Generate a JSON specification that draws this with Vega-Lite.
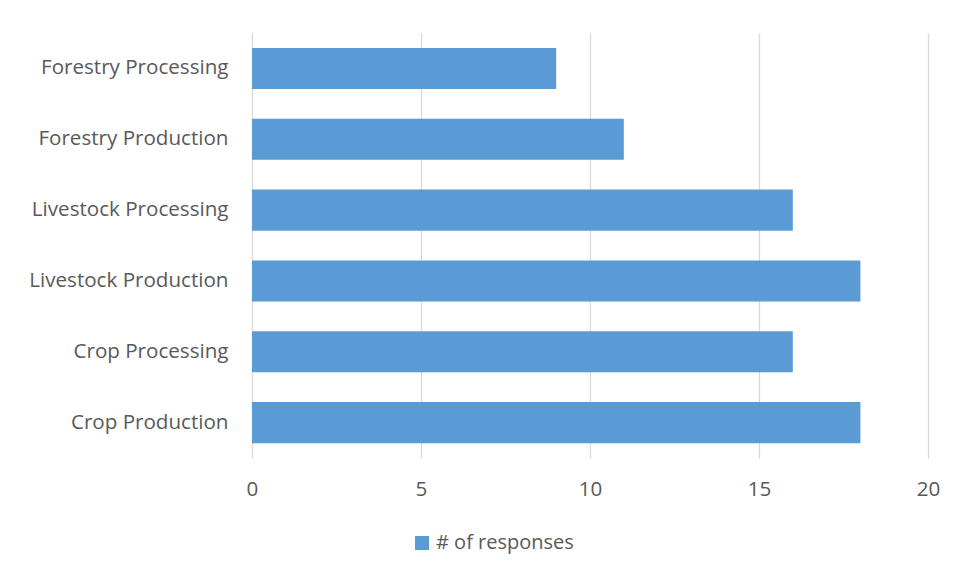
{
  "$schema": "https://vega.github.io/schema/vega-lite/v6.json",
  "width": 676,
  "height": 425,
  "autosize": "none",
  "padding": {"left": 252, "top": 33, "right": 28, "bottom": 120},
  "background": "white",
  "data": {
    "values": [
      {"sector": "Forestry Processing", "responses": 9, "series": "# of responses"},
      {"sector": "Forestry Production", "responses": 11, "series": "# of responses"},
      {"sector": "Livestock Processing", "responses": 16, "series": "# of responses"},
      {"sector": "Livestock Production", "responses": 18, "series": "# of responses"},
      {"sector": "Crop Processing", "responses": 16, "series": "# of responses"},
      {"sector": "Crop Production", "responses": 18, "series": "# of responses"}
    ]
  },
  "mark": {"type": "bar"},
  "encoding": {
    "y": {
      "field": "sector",
      "type": "nominal",
      "sort": null,
      "scale": {"paddingInner": 0.42, "paddingOuter": 0.21},
      "axis": {
        "title": null,
        "domain": false,
        "ticks": false,
        "grid": false,
        "labelPadding": 24,
        "labelLimit": 300,
        "labelFont": "Open Sans",
        "labelFontSize": 20.6,
        "labelColor": "#595959"
      }
    },
    "x": {
      "field": "responses",
      "type": "quantitative",
      "scale": {"domain": [0, 20], "nice": false},
      "axis": {
        "title": null,
        "values": [0, 5, 10, 15, 20],
        "domain": false,
        "ticks": false,
        "grid": true,
        "gridColor": "#d9d9d9",
        "gridWidth": 1.3,
        "labelFlush": false,
        "labelPadding": 21,
        "labelFont": "Open Sans",
        "labelFontSize": 20.6,
        "labelColor": "#595959"
      }
    },
    "color": {
      "field": "series",
      "type": "nominal",
      "scale": {"range": ["#5b9bd5"]},
      "legend": {
        "title": null,
        "orient": "none",
        "legendX": 160,
        "legendY": 500,
        "symbolType": "square",
        "symbolSize": 196,
        "symbolStrokeWidth": 0,
        "labelFont": "Open Sans",
        "labelFontSize": 20,
        "labelColor": "#595959",
        "labelOffset": 4
      }
    }
  },
  "config": {"view": {"stroke": null}}
}
